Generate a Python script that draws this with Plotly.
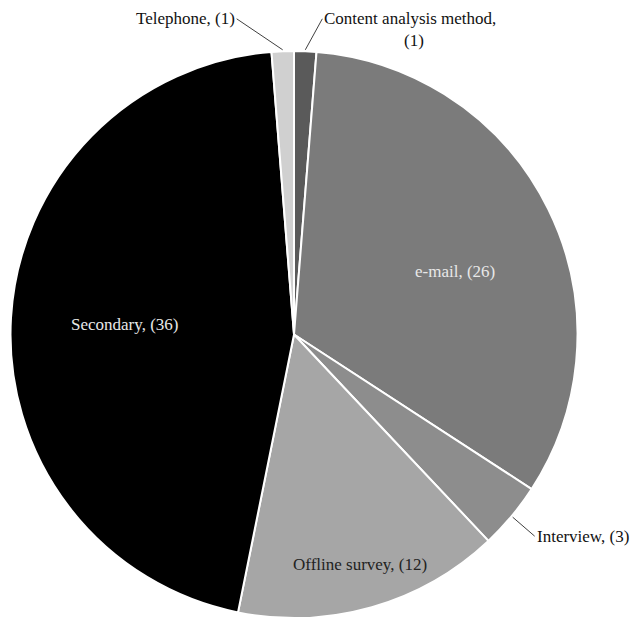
import math
import plotly.graph_objects as go

# ---- data ----
categories = ["Content analysis method", "e-mail", "Interview", "Offline survey", "Secondary", "Telephone"]
counts = [1, 26, 3, 12, 36, 1]

# ---- styling ----
colors = ["#5a5a5a", "#7b7b7b", "#8d8d8d", "#a6a6a6", "#000000", "#d0d0d0"]
W, H = 635, 618
FONT = "Liberation Serif, Times New Roman, serif"
FS = 17

cx, r_pix = 294, 284
top = 51
dom_x = [(cx - r_pix) / W, (cx + r_pix) / W]
dom_y = [0, 1 - top / H]
R = min((dom_x[1] - dom_x[0]) * W, (dom_y[1] - dom_y[0]) * H) / 2
cy = H - (dom_y[0] * H + R)  # from top in px

fig = go.Figure(go.Pie(
    labels=categories, values=counts, sort=False, direction="clockwise", rotation=0,
    marker=dict(colors=colors, line=dict(color="white", width=2)),
    textinfo="none", hoverinfo="label+value", showlegend=False,
    domain=dict(x=dom_x, y=dom_y),
))

total = sum(counts)
mids = []
acc = 0
for v in counts:
    mids.append((acc + v / 2) / total * 2 * math.pi)
    acc += v

def pt(theta, frac):
    return cx + frac * R * math.sin(theta), cy - frac * R * math.cos(theta)

def paper(px, py):
    return px / W, 1 - py / H

annotations = []
# inside labels: (index, radial fraction, angular nudge in degrees, colour)
inside = [(1, 0.61, 5.0, "#e8e8e8"), (4, 0.60, 0.0, "#e8e8e8"), (3, 0.845, 0.0, "#222222")]
for i, frac, dth, col in inside:
    px, py = pt(mids[i] + math.radians(dth), frac)
    x, y = paper(px, py)
    annotations.append(dict(x=x, y=y, xref="paper", yref="paper", showarrow=False,
                            xanchor="center", yanchor="middle",
                            text=f"{categories[i]}, ({counts[i]})",
                            font=dict(family=FONT, size=FS, color=col)))

# outside labels with leader lines: (index, tail offset dx, dy, xanchor)
outside = [(5, -46, -31, "right"), (0, 17, -31, "left"), (2, 22, 19, "left")]
for i, dx, dy, xa in outside:
    hx, hy = pt(mids[i], 1.005)
    x, y = paper(hx, hy)
    txt = f"{categories[i]}," if i == 0 else f"{categories[i]}, ({counts[i]})"
    annotations.append(dict(x=x, y=y, xref="paper", yref="paper", showarrow=True,
                            ax=dx, ay=dy, arrowhead=0, arrowwidth=1, arrowcolor="#404040",
                            xanchor=xa, yanchor="middle", text=txt, standoff=0,
                            font=dict(family=FONT, size=FS, color="#111111")))
    if i == 0:
        annotations.append(dict(x=(hx + dx + 92) / W, y=1 - (hy + dy + 22) / H,
                                xref="paper", yref="paper", showarrow=False,
                                xanchor="center", yanchor="middle",
                                text=f"({counts[i]})",
                                font=dict(family=FONT, size=FS, color="#111111")))

fig.update_layout(width=W, height=H, margin=dict(l=0, r=0, t=0, b=0),
                  paper_bgcolor="white", plot_bgcolor="white",
                  annotations=annotations)
fig.write_html("out.html")
